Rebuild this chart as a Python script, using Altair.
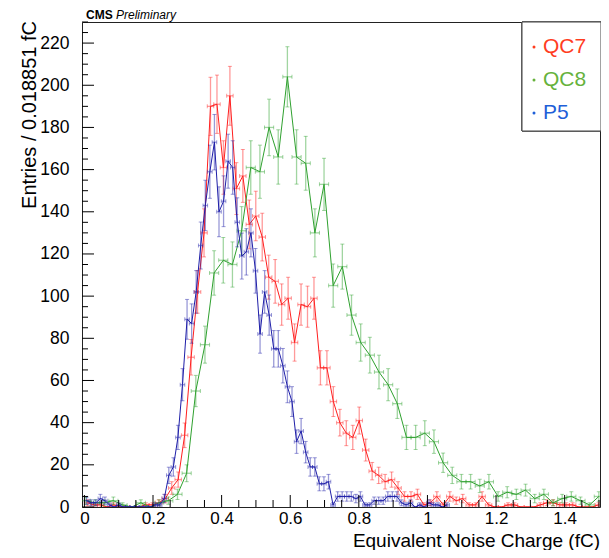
import math
import altair as alt
import pandas as pd

# ---------------- data ----------------
QC7_COUNTS = [2, 1, 1, 0, 1, 0, 0, 0, 0, 1,
              1, 2, 4, 9, 13, 34, 71, 102, 130, 190,
              191, 161, 195, 151, 157, 134, 138, 128, 109, 107,
              96, 99, 78, 96, 95, 99, 66, 66, 50, 40,
              35, 33, 41, 27, 17, 15, 12, 13, 9, 5,
              5, 6, 1, 2, 5, 1, 5, 3, 4, 1,
              1, 5, 1, 0, 0, 1, 1, 0, 0, 0,
              1, 2, 2, 1, 1, 1, 0, 0, 0, 1]
QC7_START, QC7_BIN = 0.0, 0.018851

QC8_COUNTS = [3, 2, 2, 3, 1, 0, 2, 0, 2, 3,
              6, 16, 55, 77, 111, 117, 115, 131, 161, 159,
              180, 166, 204, 166, 163, 130, 153, 105, 114, 91,
              78, 72, 64, 58, 49, 33, 33, 35, 31, 21,
              15, 12, 12, 10, 12, 5, 7, 6, 8, 4,
              6, 2, 4, 5, 3, 1, 5]
QC8_START, QC8_BIN = -0.009, 0.0267

P5_COUNTS = [3, 2, 2, 4, 3, 1, 0, 1, 0, 0,
             0, 0, 0, 0, 0, 1, 1, 4, 15, 19,
             33, 58, 89, 87, 102, 124, 143, 159, 173, 140,
             145, 164, 161, 135, 119, 121, 130, 112, 82, 102,
             91, 75, 75, 67, 57, 50, 31, 36, 26, 19,
             19, 11, 11, 12, 1, 5, 5, 5, 5, 4,
             5, 1, 1, 3, 3, 3, 5, 5, 5, 2,
             1, 2, 0, 1, 0, 2, 1, 1, 0, 1]
P5_START, P5_BIN = 0.0, 0.0133

SERIES = ["QC7", "QC8", "P5"]
LINE_COLORS = ["#ff1f1f", "#2fa12f", "#1e1ea8"]
LEGEND_COLORS = ["#ff3d1f", "#66b23c", "#1f5fd8"]

X_MAJOR = [0, 0.2, 0.4, 0.6, 0.8, 1.0, 1.2, 1.4]
Y_MAJOR = [0, 20, 40, 60, 80, 100, 120, 140, 160, 180, 200, 220]
X_MINOR = [round(0.05 * k, 2) for k in range(0, 31) if k % 4 != 0]
Y_MINOR = [5 * k for k in range(0, 47) if k % 4 != 0]

X_TITLE = "Equivalent Noise Charge (fC)"
Y_TITLE = "Entries / 0.018851 fC"

X_DOMAIN = [-0.007, 1.503]
Y_DOMAIN = [0, 230]
W, H = 518, 485
FONT = "Liberation Sans"


def hist_frame(counts, start, width, name):
    rows = []
    for i, n in enumerate(counts):
        c = start + width * (i + 0.5)
        e = math.sqrt(n)
        rows.append(dict(series=name, x=c, y=n, ylo=n - e, yhi=n + e,
                         xlo=c - width / 2, xhi=c + width / 2))
    return pd.DataFrame(rows)


frames = [hist_frame(QC7_COUNTS, QC7_START, QC7_BIN, "QC7"),
          hist_frame(QC8_COUNTS, QC8_START, QC8_BIN, "QC8"),
          hist_frame(P5_COUNTS, P5_START, P5_BIN, "P5")]

xs = alt.Scale(domain=X_DOMAIN, nice=False, zero=False)
ys = alt.Scale(domain=Y_DOMAIN, nice=False, zero=False)

x_axis = alt.Axis(values=X_MAJOR, format="~g", ticks=False, domain=False, grid=False,
                  labelFontSize=17, labelFont=FONT, labelColor="black", labelPadding=3,
                  labelFlush=False, title=None)
y_axis = alt.Axis(values=Y_MAJOR, format="d", ticks=False, domain=False, grid=False,
                  labelFontSize=17.5, labelFont=FONT, labelColor="black", labelPadding=13,
                  title=None)

layers = []
# invisible base carrying the axes
base = alt.Chart(frames[0]).mark_point(opacity=0).encode(
    x=alt.X("x:Q", scale=xs, axis=x_axis),
    y=alt.Y("y:Q", scale=ys, axis=y_axis),
)
layers.append(base)

for df, col in zip(frames, LINE_COLORS):
    ch = alt.Chart(df)
    eb_op = 0.45
    layers.append(ch.mark_rule(color=col, opacity=eb_op, strokeWidth=1.3, clip=True).encode(
        x=alt.X("x:Q", scale=xs), y=alt.Y("ylo:Q", scale=ys), y2="yhi:Q"))
    layers.append(ch.mark_rule(color=col, opacity=eb_op, strokeWidth=1.3, clip=True).encode(
        x=alt.X("xlo:Q", scale=xs), x2="xhi:Q", y=alt.Y("y:Q", scale=ys)))
    for yc in ["ylo", "yhi"]:
        layers.append(ch.mark_tick(color=col, opacity=eb_op, orient="horizontal", size=4,
                                   thickness=1, clip=True).encode(
            x=alt.X("x:Q", scale=xs), y=alt.Y(f"{yc}:Q", scale=ys)))
    for xc in ["xlo", "xhi"]:
        layers.append(ch.mark_tick(color=col, opacity=eb_op, orient="vertical", size=4,
                                   thickness=1, clip=True).encode(
            x=alt.X(f"{xc}:Q", scale=xs), y=alt.Y("y:Q", scale=ys)))
    layers.append(ch.mark_line(color=col, strokeWidth=1, clip=True).encode(
        x=alt.X("x:Q", scale=xs), y=alt.Y("y:Q", scale=ys)))

# inward ticks (ROOT style)
xmaj = pd.DataFrame({"v": X_MAJOR})
xmin = pd.DataFrame({"v": X_MINOR})
ymaj = pd.DataFrame({"v": Y_MAJOR})
ymin = pd.DataFrame({"v": Y_MINOR})
layers.append(alt.Chart(xmaj).mark_rule(color="black", strokeWidth=1).encode(
    x=alt.X("v:Q", scale=xs), y=alt.value(H), y2=alt.value(H - 12)))
layers.append(alt.Chart(xmin).mark_rule(color="black", strokeWidth=1).encode(
    x=alt.X("v:Q", scale=xs), y=alt.value(H), y2=alt.value(H - 7)))
layers.append(alt.Chart(ymaj).mark_rule(color="black", strokeWidth=1).encode(
    y=alt.Y("v:Q", scale=ys), x=alt.value(0), x2=alt.value(12)))
layers.append(alt.Chart(ymin).mark_rule(color="black", strokeWidth=1).encode(
    y=alt.Y("v:Q", scale=ys), x=alt.value(0), x2=alt.value(6)))

# axis titles (ROOT style: right/top aligned)
titles = pd.DataFrame({"xt": [X_TITLE], "yt": [Y_TITLE]})
layers.append(alt.Chart(titles).mark_text(align="right", baseline="alphabetic", fontSize=19,
                                          font=FONT, color="black").encode(
    x=alt.value(W), y=alt.value(H + 40), text="xt:N"))
layers.append(alt.Chart(titles).mark_text(align="right", baseline="middle", angle=270,
                                          fontSize=20, font=FONT, color="black").encode(
    x=alt.value(-52), y=alt.value(-1), text="yt:N"))

# legend box
legend_df = pd.DataFrame({"name": SERIES, "color": LEGEND_COLORS, "row": [0, 1, 2]})
layers.append(alt.Chart(legend_df).mark_rect(fill="white", stroke="#444", strokeWidth=1).encode(
    x=alt.value(440), x2=alt.value(519), y=alt.value(0), y2=alt.value(109)))
for r in range(3):
    sub = legend_df[legend_df["row"] == r]
    ypix = 25 + 33 * r
    layers.append(alt.Chart(sub).mark_point(filled=True, size=9, opacity=1).encode(
        x=alt.value(452), y=alt.value(ypix), color=alt.Color("color:N", scale=None)))
    layers.append(alt.Chart(sub).mark_text(align="left", baseline="middle", fontSize=21,
                                           font=FONT).encode(
        x=alt.value(461), y=alt.value(ypix), text="name:N",
        color=alt.Color("color:N", scale=None)))

# CMS Preliminary
lab = pd.DataFrame({"a": ["CMS"], "b": ["Preliminary"]})
layers.append(alt.Chart(lab).mark_text(align="left", baseline="alphabetic", fontSize=12,
                                       fontWeight="bold", font=FONT, color="black").encode(
    x=alt.value(4), y=alt.value(-3), text="a:N"))
layers.append(alt.Chart(lab).mark_text(align="left", baseline="alphabetic", fontSize=12,
                                       fontStyle="italic", font=FONT, color="black").encode(
    x=alt.value(34), y=alt.value(-3), text="b:N"))

chart = alt.layer(*layers).properties(
    width=W, height=H,
    padding={"left": 74, "top": 14, "right": 1, "bottom": 43},
    autosize="none",
).configure_view(stroke="#222", strokeWidth=1)

chart.save("out.html", embed_options={"renderer": "svg", "actions": False})
